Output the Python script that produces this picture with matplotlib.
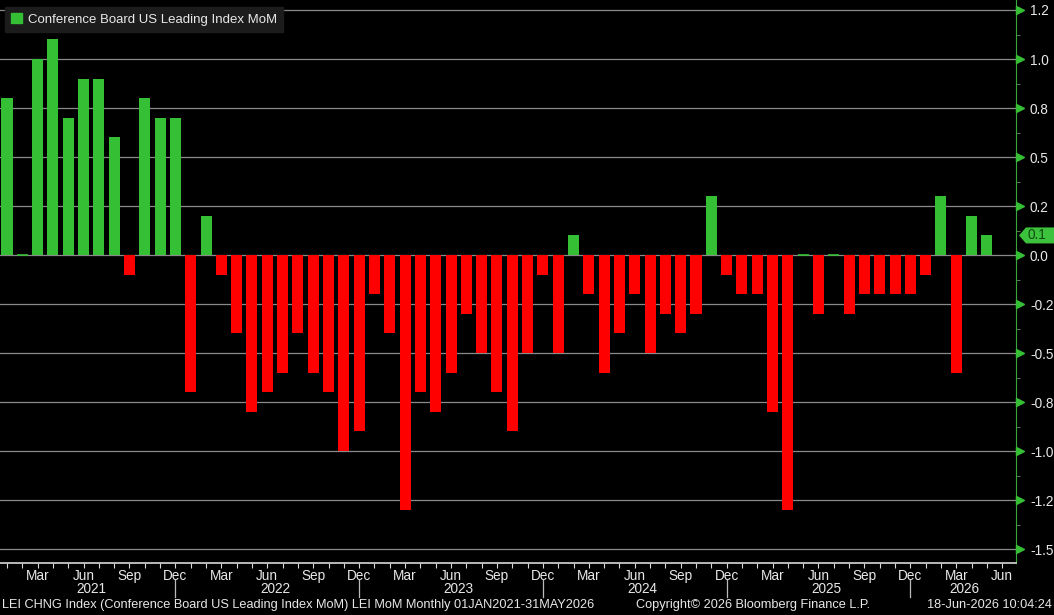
import matplotlib.pyplot as plt
import matplotlib.transforms as mtransforms
from matplotlib.patches import Polygon, Patch
from matplotlib.ticker import MultipleLocator, FormatStrFormatter
import numpy as np
import pandas as pd

# Conference Board US Leading Index MoM, Jan 2021 .. May 2026
values = [
    0.8, 0.0, 1.0, 1.1, 0.7, 0.9, 0.9, 0.6, -0.1, 0.8, 0.7, 0.7,          # 2021
    -0.7, 0.2, -0.1, -0.4, -0.8, -0.7, -0.6, -0.4, -0.6, -0.7, -1.0, -0.9,  # 2022
    -0.2, -0.4, -1.3, -0.7, -0.8, -0.6, -0.3, -0.5, -0.7, -0.9, -0.5, -0.1,  # 2023
    -0.5, 0.1, -0.2, -0.6, -0.4, -0.2, -0.5, -0.3, -0.4, -0.3, 0.3, -0.1,   # 2024
    -0.2, -0.2, -0.8, -1.3, 0.0, -0.3, 0.0, -0.3, -0.2, -0.2, -0.2, -0.2,   # 2025
    -0.1, 0.3, -0.6, 0.2, 0.1,                                              # 2026
]
months = pd.date_range("2021-01-01", "2026-06-01", freq="MS")  # axis runs to Jun 2026
series_name = "Conference Board US Leading Index MoM"
footer_left = "LEI CHNG Index (Conference Board US Leading Index MoM) LEI MoM Monthly 01JAN2021-31MAY2026"
footer_mid = "Copyright\u00a9 2026 Bloomberg Finance L.P."
footer_right = "18-Jun-2026 10:04:24"

GREEN = "#35bf35"
RED = "#ff0000"
TXT = "#e8e8e8"
FS = 9.2
plt.rcParams["font.family"] = "Liberation Sans"

W, H = 1054, 615
fig = plt.figure(figsize=(W / 100, H / 100), dpi=100, facecolor="black")
ax = fig.add_axes([0, 1 - 563 / H, 1016 / W, 563 / H], facecolor="black")

x = np.arange(len(values))
vals = np.array(values)
colors = [GREEN if v >= 0 else RED for v in vals]
lws = [1.2 if v == 0 else 0 for v in vals]
ax.bar(x, vals, width=0.72, color=colors, edgecolor=colors, linewidth=lws, zorder=3)

ax.set_xlim(-0.457, 65.9)
ax.set_ylim(-1.571, 1.301)

# y axis on the right
ax.yaxis.tick_right()
ax.yaxis.set_major_locator(MultipleLocator(0.25))
ax.yaxis.set_minor_locator(MultipleLocator(0.125))
ax.yaxis.set_major_formatter(FormatStrFormatter("%.1f"))
ax.tick_params(axis="y", which="major", length=0, pad=10, labelcolor=TXT, labelsize=FS + 0.6)
ax.tick_params(axis="y", which="minor", length=3, color="#6a8a6a")
ax.grid(axis="y", which="major", color="#8a8a8a", linewidth=0.9, zorder=1)

yticks = np.arange(-1.5, 1.26, 0.25)
tri_tr = mtransforms.blended_transform_factory(ax.transAxes, ax.transData) + \
    mtransforms.ScaledTranslation(4 / 100, 0, fig.dpi_scale_trans)
ax.plot(np.ones_like(yticks), yticks, linestyle="none", marker=">", markersize=5.5,
        color=GREEN, transform=tri_tr, clip_on=False, zorder=5)

for side in ["left", "top"]:
    ax.spines[side].set_visible(False)
ax.spines["right"].set_color("#3aa63a")
ax.spines["bottom"].set_color("#d8d8d8")
ax.spines["bottom"].set_linewidth(1.2)

# x axis: a tick every month, labels on quarter-end months
month_labels = [m.strftime("%b") if m.month in (3, 6, 9, 12) else "" for m in months]
ax.set_xticks(np.arange(len(months)))
ax.set_xticklabels(month_labels)
ax.tick_params(axis="x", length=3.5, color="#d8d8d8", pad=0.5, labelcolor=TXT, labelsize=FS + 0.6)

xt = ax.get_xaxis_transform()
years = months.year
for yr in sorted(set(years)):
    idx = np.where(years == yr)[0]
    ax.text((idx[0] + idx[-1]) / 2, -0.0465, str(yr), transform=xt, ha="center", va="center",
            color=TXT, fontsize=FS + 0.6, clip_on=False)
    if months[idx[-1]].month == 12:
        ax.plot([idx[-1], idx[-1]], [-0.031, -0.061], transform=xt, color="#bbbbbb",
                linewidth=0.9, clip_on=False)

# legend
leg = ax.legend(handles=[Patch(color=GREEN, label=series_name)], loc="upper left",
                bbox_to_anchor=(5 / 1016, 1 - 7 / 563), borderaxespad=0, fancybox=False,
                facecolor="#1c1c1c", edgecolor="#1c1c1c", framealpha=1, fontsize=FS + 0.3,
                labelcolor=TXT, handlelength=0.85, handleheight=0.85, handletextpad=0.45,
                borderpad=0.45)
leg.set_zorder(6)

# last value tag
last = values[-1]
tag_tr = mtransforms.blended_transform_factory(fig.transFigure, ax.transData)
h = 8 / 196
tag = Polygon([[1019 / W, last], [1026 / W, last + h], [1.0, last + h], [1.0, last - h],
               [1026 / W, last - h]], closed=True, facecolor="#3cc23c", edgecolor="none",
              transform=tag_tr, clip_on=False, zorder=6)
fig.add_artist(tag)
fig.text(1028 / W, last, f"{last:.1f}", transform=tag_tr, ha="left", va="center",
         color="#0d4a0d", fontsize=FS + 0.6, zorder=7)

# footer
fy = 1 - 605 / H
fig.text(2 / W, fy, footer_left, ha="left", va="center", color=TXT, fontsize=FS)
fig.text(636 / W, fy, footer_mid, ha="left", va="center", color=TXT, fontsize=FS)
fig.text(1052 / W, fy, footer_right, ha="right", va="center", color=TXT, fontsize=FS)

fig.savefig("out.png", dpi=100, facecolor="black")
